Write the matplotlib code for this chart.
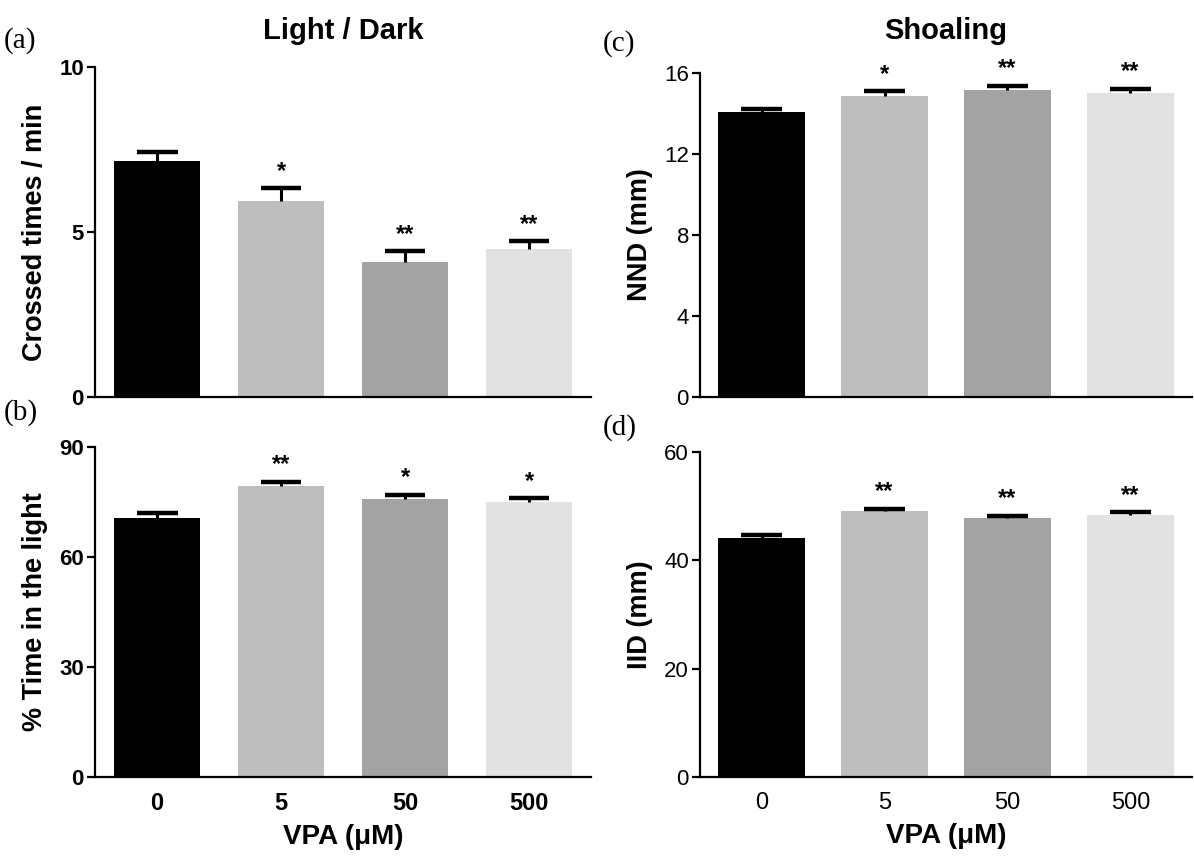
import matplotlib
matplotlib.use("Agg")
import matplotlib.pyplot as plt
import numpy as np

plt.rcParams["font.family"] = ["Liberation Sans", "DejaVu Sans"]

doses = ["0", "5", "50", "500"]
bar_colors = ["#000000", "#bebebe", "#a3a3a3", "#e2e2e2"]

# (a) Light / Dark: crossings per minute
cross_mean = [7.14, 5.93, 4.09, 4.48]
cross_err = [0.27, 0.40, 0.32, 0.24]
cross_sig = ["", "*", "**", "**"]

# (b) Light / Dark: % time in the light
light_mean = [70.7, 79.4, 75.9, 75.0]
light_err = [1.2, 1.1, 1.0, 1.0]
light_sig = ["", "**", "*", "*"]

# (c) Shoaling: nearest neighbour distance
nnd_mean = [14.05, 14.87, 15.12, 14.99]
nnd_err = [0.17, 0.20, 0.22, 0.20]
nnd_sig = ["", "*", "**", "**"]

# (d) Shoaling: inter-individual distance
iid_mean = [44.2, 49.1, 47.85, 48.45]
iid_err = [0.4, 0.4, 0.4, 0.45]
iid_sig = ["", "**", "**", "**"]

BAR_W = 0.7
CAP_HALF = 0.165


def panel(ax, mean, err, sig, ylim, yticks, ylabel, bold, xlabels):
    x = np.arange(len(mean))
    mean = np.asarray(mean)
    err = np.asarray(err)
    weight = "bold" if bold else "normal"
    ax.bar(x, mean, width=BAR_W, color=bar_colors, zorder=2)
    # upper-only error bars: stem plus thick cap
    ax.vlines(x, mean, mean + err, color="black", lw=2.2, zorder=3)
    ax.hlines(mean + err, x - CAP_HALF, x + CAP_HALF, color="black",
              lw=3.2, zorder=3)
    for xi, top, s in zip(x, mean + err, sig):
        if s:
            ax.annotate(s, (xi, top), xytext=(0, 4),
                        textcoords="offset points", ha="center", va="bottom",
                        fontsize=17, fontweight="bold")
    ax.set_xlim(-0.5, 3.5)
    ax.set_ylim(*ylim)
    ax.set_yticks(yticks)
    ax.spines[["top", "right"]].set_visible(False)
    for sp in ("left", "bottom"):
        ax.spines[sp].set_linewidth(1.6)
    ax.tick_params(axis="y", length=6, width=1.6, labelsize=16, pad=2)
    for lab in ax.get_yticklabels():
        lab.set_fontweight(weight)
    ax.set_ylabel(ylabel, fontsize=19.5, fontweight="bold", labelpad=8)
    if xlabels:
        ax.set_xticks(x)
        ax.set_xticklabels(doses, fontsize=17, fontweight=weight)
        ax.tick_params(axis="x", length=0, pad=11)
        ax.set_xlabel("VPA (\u03bcM)", fontsize=20, fontweight="bold",
                      labelpad=6)
    else:
        ax.set_xticks([])


fig = plt.figure(figsize=(11.94, 8.56), dpi=100)
ax_a = fig.add_axes([0.0796, 0.5362, 0.4154, 0.3855])
ax_b = fig.add_axes([0.0796, 0.0923, 0.4154, 0.3855])
ax_c = fig.add_axes([0.5863, 0.5362, 0.412, 0.3790])
ax_d = fig.add_axes([0.5863, 0.0923, 0.412, 0.3797])

panel(ax_a, cross_mean, cross_err, cross_sig, (0, 10), [0, 5, 10],
      "Crossed times / min", True, False)
panel(ax_b, light_mean, light_err, light_sig, (0, 90), [0, 30, 60, 90],
      "% Time in the light", True, True)
panel(ax_c, nnd_mean, nnd_err, nnd_sig, (0, 16), [0, 4, 8, 12, 16],
      "NND (mm)", False, False)
panel(ax_d, iid_mean, iid_err, iid_sig, (0, 60), [0, 20, 40, 60],
      "IID (mm)", False, True)

ax_a.set_title("Light / Dark", fontsize=21, fontweight="bold", pad=20)
ax_c.set_title("Shoaling", fontsize=21, fontweight="bold", pad=24)

for lbl, (fx, fy) in zip(["(a)", "(b)", "(c)", "(d)"],
                         [(0.003, 0.953), (0.003, 0.518),
                          (0.505, 0.949), (0.505, 0.500)]):
    fig.text(fx, fy, lbl, fontsize=21, family="Liberation Serif",
             va="center", ha="left")

fig.savefig("out.png", dpi=100)
